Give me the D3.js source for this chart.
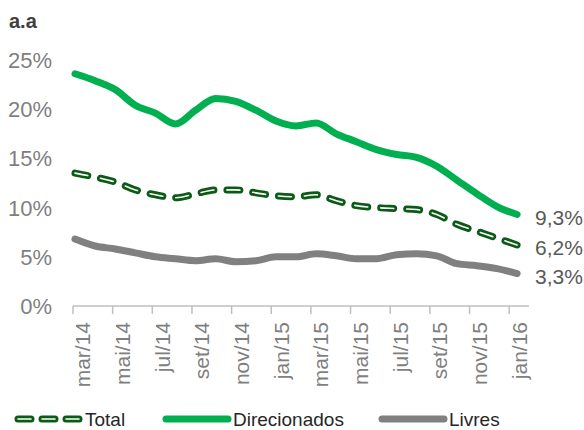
<!DOCTYPE html>
<html lang="pt">
<head>
  <meta charset="UTF-8" />
  <title>Taxas a.a</title>
  <script src="https://d3js.org/d3.v7.min.js"></script>
  <style>
    body { margin: 0; background: #fff; font-family: 'Liberation Sans', Arial, sans-serif; }
    svg { display: block; }
  </style>
</head>
<body>
  <svg id="chart" width="584" height="430"></svg>
  <script>
    // months mar/14 .. jan/16
    const months = ["mar/14","abr/14","mai/14","jun/14","jul/14","ago/14","set/14","out/14","nov/14","dez/14",
      "jan/15","fev/15","mar/15","abr/15","mai/15","jun/15","jul/15","ago/15","set/15","out/15","nov/15","dez/15","jan/16"];
    const total = [13.5,13.1,12.6,11.8,11.3,11.0,11.4,11.8,11.8,11.5,11.2,11.1,11.3,10.7,10.2,10.0,9.9,9.8,9.3,8.3,7.6,6.9,6.2];
    const direcionados = [23.6,22.9,22.0,20.4,19.6,18.5,19.9,21.1,20.8,19.9,18.8,18.3,18.6,17.5,16.7,15.9,15.4,15.1,14.2,12.8,11.4,10.1,9.3];
    const livres = [6.8,6.1,5.8,5.4,5.0,4.8,4.6,4.8,4.5,4.6,5.0,5.0,5.3,5.1,4.8,4.8,5.2,5.3,5.1,4.3,4.1,3.8,3.3];
    const yTicks = [0, 5, 10, 15, 20, 25];

    const svg = d3.select("#chart");
    const fmt = v => d3.format(".1f")(v).replace(".", ",") + "%";

    // axis positions (x axis spans one extra month after jan/16)
    const axisLeft = 73, axisRight = 529, axisY = 306;
    const step = (axisRight - axisLeft) / months.length;
    const x = d3.scaleLinear().domain([0, months.length - 1]).range([axisLeft + 2, axisLeft + step * 22.4]);
    const xTick = d3.scaleLinear().domain([0, months.length]).range([axisLeft, axisRight]);
    const y = d3.scaleLinear().domain([0, 25]).range([axisY, 60]);

    // title
    svg.append("text").attr("x", 9).attr("y", 28)
      .attr("font-size", 20).attr("font-weight", "bold").attr("fill", "#404040").text("a.a");

    // y labels
    svg.selectAll(".ylab").data(yTicks).enter().append("text")
      .attr("x", 52).attr("y", d => y(d)).attr("dy", "0.36em")
      .attr("text-anchor", "end").attr("font-size", 22).attr("fill", "#7f7f7f")
      .text(d => d + "%");

    // x axis
    svg.append("line").attr("x1", axisLeft).attr("x2", axisRight)
      .attr("y1", axisY).attr("y2", axisY).attr("stroke", "#bfbfbf").attr("stroke-width", 1.5);
    const tickIdx = d3.range(0, months.length, 2);
    svg.selectAll(".tick").data(tickIdx).enter().append("line")
      .attr("x1", d => xTick(d)).attr("x2", d => xTick(d))
      .attr("y1", axisY).attr("y2", axisY + 8)
      .attr("stroke", "#bfbfbf").attr("stroke-width", 1.5);
    svg.selectAll(".xlab").data(tickIdx).enter().append("text")
      .attr("transform", d => `translate(${xTick(d + 0.5)},${axisY + 16}) rotate(-90)`)
      .attr("dy", "0.36em").attr("text-anchor", "end")
      .attr("font-size", 21).attr("fill", "#7f7f7f")
      .text(d => months[d]);

    const line = d3.line().x((d, i) => x(i)).y(d => y(d)).curve(d3.curveMonotoneX);

    // Livres
    svg.append("path").datum(livres).attr("d", line)
      .attr("fill", "none").attr("stroke", "#808080").attr("stroke-width", 7).attr("stroke-linecap", "round");
    // Direcionados
    svg.append("path").datum(direcionados).attr("d", line)
      .attr("fill", "none").attr("stroke", "#00b050").attr("stroke-width", 7).attr("stroke-linecap", "round");
    // Total (dashed, double line)
    svg.append("path").datum(total).attr("d", line)
      .attr("fill", "none").attr("stroke", "#0b5a16").attr("stroke-width", 7)
      .attr("stroke-dasharray", "13,13").attr("stroke-linecap", "round");
    svg.append("path").datum(total).attr("d", line)
      .attr("fill", "none").attr("stroke", "#ffffff").attr("stroke-width", 1.6)
      .attr("stroke-dasharray", "13,13").attr("stroke-linecap", "round");

    // end labels
    const last = months.length - 1;
    const endLabels = [
      { v: direcionados[last], y: 217 },
      { v: total[last], y: 247 },
      { v: livres[last], y: 276 }
    ];
    svg.selectAll(".endlab").data(endLabels).enter().append("text")
      .attr("x", 535).attr("y", d => d.y).attr("dy", "0.36em")
      .attr("font-size", 21).attr("fill", "#595959")
      .text(d => fmt(d.v));

    // legend
    const legY = 419;
    const legend = [
      { name: "Total", x1: 18, x2: 80, tx: 85, kind: "dash" },
      { name: "Direcionados", x1: 166, x2: 228, tx: 233, color: "#00b050" },
      { name: "Livres", x1: 382, x2: 444, tx: 449, color: "#808080" }
    ];
    legend.forEach(l => {
      if (l.kind === "dash") {
        svg.append("line").attr("x1", l.x1).attr("x2", l.x2).attr("y1", legY).attr("y2", legY)
          .attr("stroke", "#0b5a16").attr("stroke-width", 7).attr("stroke-linecap", "round")
          .attr("stroke-dasharray", "13,11");
        svg.append("line").attr("x1", l.x1).attr("x2", l.x2).attr("y1", legY).attr("y2", legY)
          .attr("stroke", "#ffffff").attr("stroke-width", 1.6).attr("stroke-linecap", "round")
          .attr("stroke-dasharray", "13,11");
      } else {
        svg.append("line").attr("x1", l.x1).attr("x2", l.x2).attr("y1", legY).attr("y2", legY)
          .attr("stroke", l.color).attr("stroke-width", 7).attr("stroke-linecap", "round");
      }
      svg.append("text").attr("x", l.tx).attr("y", legY).attr("dy", "0.36em")
        .attr("font-size", 19).attr("fill", "#262626").text(l.name);
    });
  </script>
</body>
</html>
